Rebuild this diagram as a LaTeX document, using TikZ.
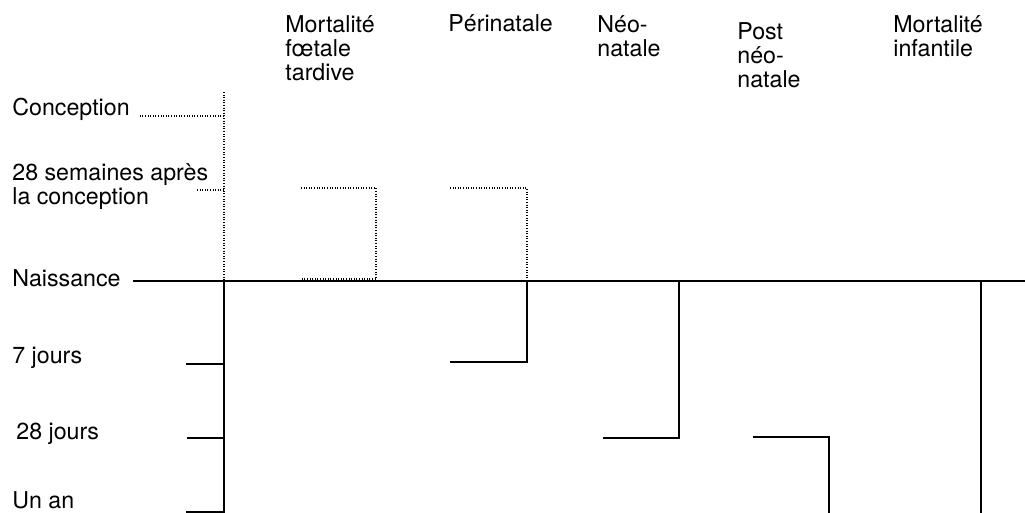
\documentclass[tikz,border=0pt]{standalone}
\usepackage{fontspec}
\setmainfont{TeX Gyre Heros}
\usetikzlibrary{positioning}

\begin{document}
\begin{tikzpicture}[x=0.5pt,y=-0.5pt,
      etiq/.style={font=\fontsize{11.6}{12.2}\selectfont,inner sep=0pt,
                   anchor=base west,align=left},
      plein/.style={line width=0.9pt},
      pointille/.style={line width=1pt,dash pattern=on 0.5pt off 0.8pt}]
      \useasboundingbox (0,0) rectangle (1025,513);

      % colonnes du haut (base = derniere ligne)
      \node[etiq] (foet) at (285,81) {Mortalité\\fœtale\\tardive};
      \node[etiq] (peri) at (448,32) {Périnatale};
      \node[etiq] (neo)  at (597,57) {Néo-\\natale};
      \node[etiq] (post) at (737,88) {Post\\néo-\\natale};
      \node[etiq] (inf)  at (893,57) {Mortalité\\infantile};

      % etapes a gauche
      \node[etiq] (conc) at (12,116) {Conception};
      \node[etiq] (sem)  at (12,205) {28 semaines après\\la conception};
      \node[etiq] (nais) at (12,287) {Naissance};
      \node[etiq] (j7)   at (12,364) {7 jours};
      \node[etiq] (j28)  at (16,440) {28 jours};
      \node[etiq] (an)   at (12,509) {Un an};

      % axe du temps
      \coordinate (axeH) at (224,92);
      \coordinate (axeN) at (224,281);
      \coordinate (axeB) at (224,513);
      \coordinate (finN) at (1025,281);
      \coordinate (debN) at (133,281);

      \draw[pointille] (axeH) -- (axeN);
      \draw[plein]     (axeN) -- (axeB);
      \draw[plein]     (debN) -- (finN);

      % graduations
      \coordinate (tConc) at (224,116);
      \coordinate (tSem)  at (224,190);
      \coordinate (tJ7)   at (224,364);
      \coordinate (tJ28)  at (224,438);
      \coordinate (tAn)   at (224,512);
      \draw[pointille] (tConc) -- ++(-84,0);
      \draw[pointille] (tSem)  -- ++(-27,0);
      \draw[plein]     (tJ7)   -- ++(-38,0);
      \draw[plein]     (tJ28)  -- ++(-37,0);
      \draw[plein]     (tAn)   -- ++(-38,0);

      % mortalite foetale tardive
      \coordinate (fA) at (301,188);
      \coordinate (fB) at (376,188);
      \coordinate (fC) at (376,279);
      \coordinate (fD) at (301,279);
      \draw[pointille] (fA) -- (fB) -- (fC) -- (fD);

      % perinatale
      \coordinate (pA) at (450,188);
      \coordinate (pB) at (527,188);
      \coordinate (pN) at (527,281);
      \coordinate (pC) at (527,362);
      \coordinate (pD) at (450,362);
      \draw[pointille] (pA) -- (pB) -- (pN);
      \draw[plein]     (pN) -- (pC) -- (pD);

      % neonatale
      \coordinate (nN) at (679,281);
      \coordinate (nC) at (679,438);
      \coordinate (nD) at (603,438);
      \draw[plein] (nN) -- (nC) -- (nD);

      % post neonatale
      \coordinate (qA) at (753,437);
      \coordinate (qB) at (829,437);
      \coordinate (qC) at (829,513);
      \draw[plein] (qA) -- (qB) -- (qC);

      % infantile
      \coordinate (iN) at (981,281);
      \coordinate (iB) at (981,513);
      \draw[plein] (iN) -- (iB);
    \end{tikzpicture}
\end{document}
